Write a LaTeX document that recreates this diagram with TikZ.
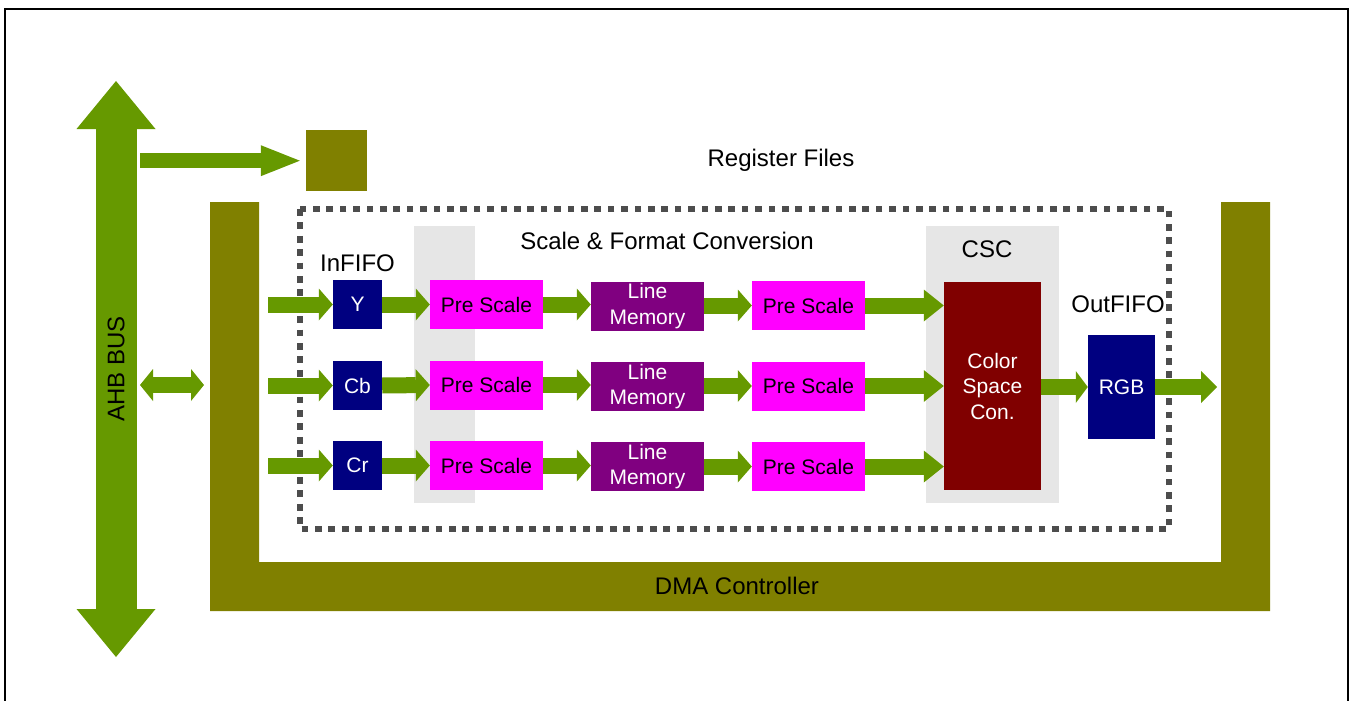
\documentclass[tikz,border=0pt]{standalone}
\usepackage{fontspec}
\setmainfont{Liberation Sans}
\usetikzlibrary{arrows.meta}
\definecolor{fatgreen}{HTML}{669900}
\definecolor{olivebar}{HTML}{808000}
\definecolor{navybox}{HTML}{000080}
\definecolor{magbox}{HTML}{FF00FF}
\definecolor{purpbox}{HTML}{800080}
\definecolor{redbox}{HTML}{800000}
\definecolor{graybg}{HTML}{E6E6E6}
\definecolor{dotgray}{HTML}{4D4D4D}
\tikzset{
  lbl/.style={inner sep=0pt, font=\fontsize{24}{28}\selectfont},
  boxtxt/.style={inner sep=0pt, align=center, font=\fontsize{21}{25.5}\selectfont},
  fifobox/.style={boxtxt, fill=navybox, text=white, minimum width=49pt, minimum height=49pt},
  prebox/.style={boxtxt, fill=magbox, text=black, minimum width=113pt, minimum height=49pt},
  lmbox/.style={boxtxt, fill=purpbox, text=white, minimum width=113pt, minimum height=49pt},
  fatarrow/.style={draw=fatgreen, line width=16pt, -{Triangle[length=14pt,width=32pt,line width=0pt]}},
}
\begin{document}
\begin{tikzpicture}[x=1pt,y=-1pt]
\useasboundingbox (0,0) rectangle (1353,701);
% outer frame
\draw[line width=2pt] (5,712) -- (5,9) -- (1348,9) -- (1348,712);
% gray backgrounds
\fill[graybg] (414,226) rectangle (475,503);
\fill[graybg] (926,226) rectangle (1059,503);
% DMA controller U shape
\fill[olivebar] (210,202) -- (259,202) -- (259,562) -- (1221,562) -- (1221,202) -- (1270,202) -- (1270,611) -- (210,611) -- cycle;
\node[lbl] (dma) at (737,586) {DMA Controller};
% dotted rectangle
\draw[dotgray, line width=6.7pt, dash pattern=on 6.7pt off 6.7pt] (300,209) rectangle (1169,529);
% register files
\node[fill=olivebar, minimum width=61pt, minimum height=61pt, inner sep=0pt] (reg) at (336.5,160.5) {};
\node[lbl] (regl) at (781,160) {Register Files};
% AHB bus
\coordinate (ahbtop) at (116,81);
\coordinate (ahbbot) at (116,657);
\draw[fatgreen, line width=41pt, {Triangle[length=48pt,width=79pt,line width=0pt]}-{Triangle[length=48pt,width=79pt,line width=0pt]}] (ahbtop) -- (ahbbot);
\node[lbl, rotate=90] (ahbl) at (116,369) {AHB BUS};
% bus to register
\coordinate (bs) at (140,160.7);
\draw[fatgreen, line width=15pt, -{Triangle[length=39pt,width=31pt,line width=0pt]}, shorten >=6pt] (bs) -- (bs -| reg.west);
% bus <-> DMA
\coordinate (da) at (140,385);
\coordinate (db) at (204,385);
\draw[fatgreen, line width=16pt, {Triangle[length=13pt,width=32pt,line width=0pt]}-{Triangle[length=13pt,width=32pt,line width=0pt]}] (da) -- (db);
% labels
\node[lbl] (sfc) at (667,241) {Scale \& Format Conversion};
\node[lbl] (infifo) at (357.5,263) {InFIFO};
\node[lbl] (cscl) at (987,249) {CSC};
\node[lbl] (outfifo) at (1118,304) {OutFIFO};
% rows
\node[fifobox] (y) at (357.5,304.5) {Y};
\node[fifobox] (cb) at (357.5,385.5) {Cb};
\node[fifobox] (cr) at (357.5,465.5) {Cr};
\node[prebox] (p1y) at (486.5,304.5) {Pre Scale};
\node[prebox] (p1cb) at (486.5,385) {Pre Scale};
\node[prebox] (p1cr) at (486.5,465.5) {Pre Scale};
\node[lmbox] (lmy) at (647.5,306) {Line\\Memory};
\node[lmbox] (lmcb) at (647.5,386.5) {Line\\Memory};
\node[lmbox] (lmcr) at (647.5,466.5) {Line\\Memory};
\node[prebox] (p2y) at (808.5,305.5) {Pre Scale};
\node[prebox] (p2cb) at (808.5,386) {Pre Scale};
\node[prebox] (p2cr) at (808.5,466.5) {Pre Scale};
\node[boxtxt, fill=redbox, text=white, minimum width=97pt, minimum height=208pt] (csc) at (992.5,386) {Color\\Space\\Con.};
\node[boxtxt, fill=navybox, text=white, minimum width=67pt, minimum height=104pt] (rgb) at (1121.5,387) {RGB};
% input arrows
\coordinate (iny) at (268,304.5);
\coordinate (incb) at (268,385.5);
\coordinate (incr) at (268,465.5);
\draw[fatarrow] (iny) -- (y.west);
\draw[fatarrow] (incb) -- (cb.west);
\draw[fatarrow] (incr) -- (cr.west);
\foreach \r in {y,cb,cr}{
  \draw[fatarrow] (\r.east) -- (p1\r.west);
  \draw[fatarrow] (p1\r.east) -- (p1\r.east -| lm\r.west);
  \draw[fatarrow] (lm\r.east |- p2\r) -- (p2\r.west);
  \draw[fatarrow, -{Triangle[length=20pt,width=32pt,line width=0pt]}] (p2\r.east) -- (p2\r.east -| csc.west);
}
\draw[fatarrow, -{Triangle[length=12pt,width=32pt,line width=0pt]}] (csc.east |- rgb) -- (rgb.west);
\coordinate (outend) at (1217,387);
\draw[fatarrow, -{Triangle[length=16pt,width=32pt,line width=0pt]}] (rgb.east) -- (outend);
\end{tikzpicture}
\end{document}
